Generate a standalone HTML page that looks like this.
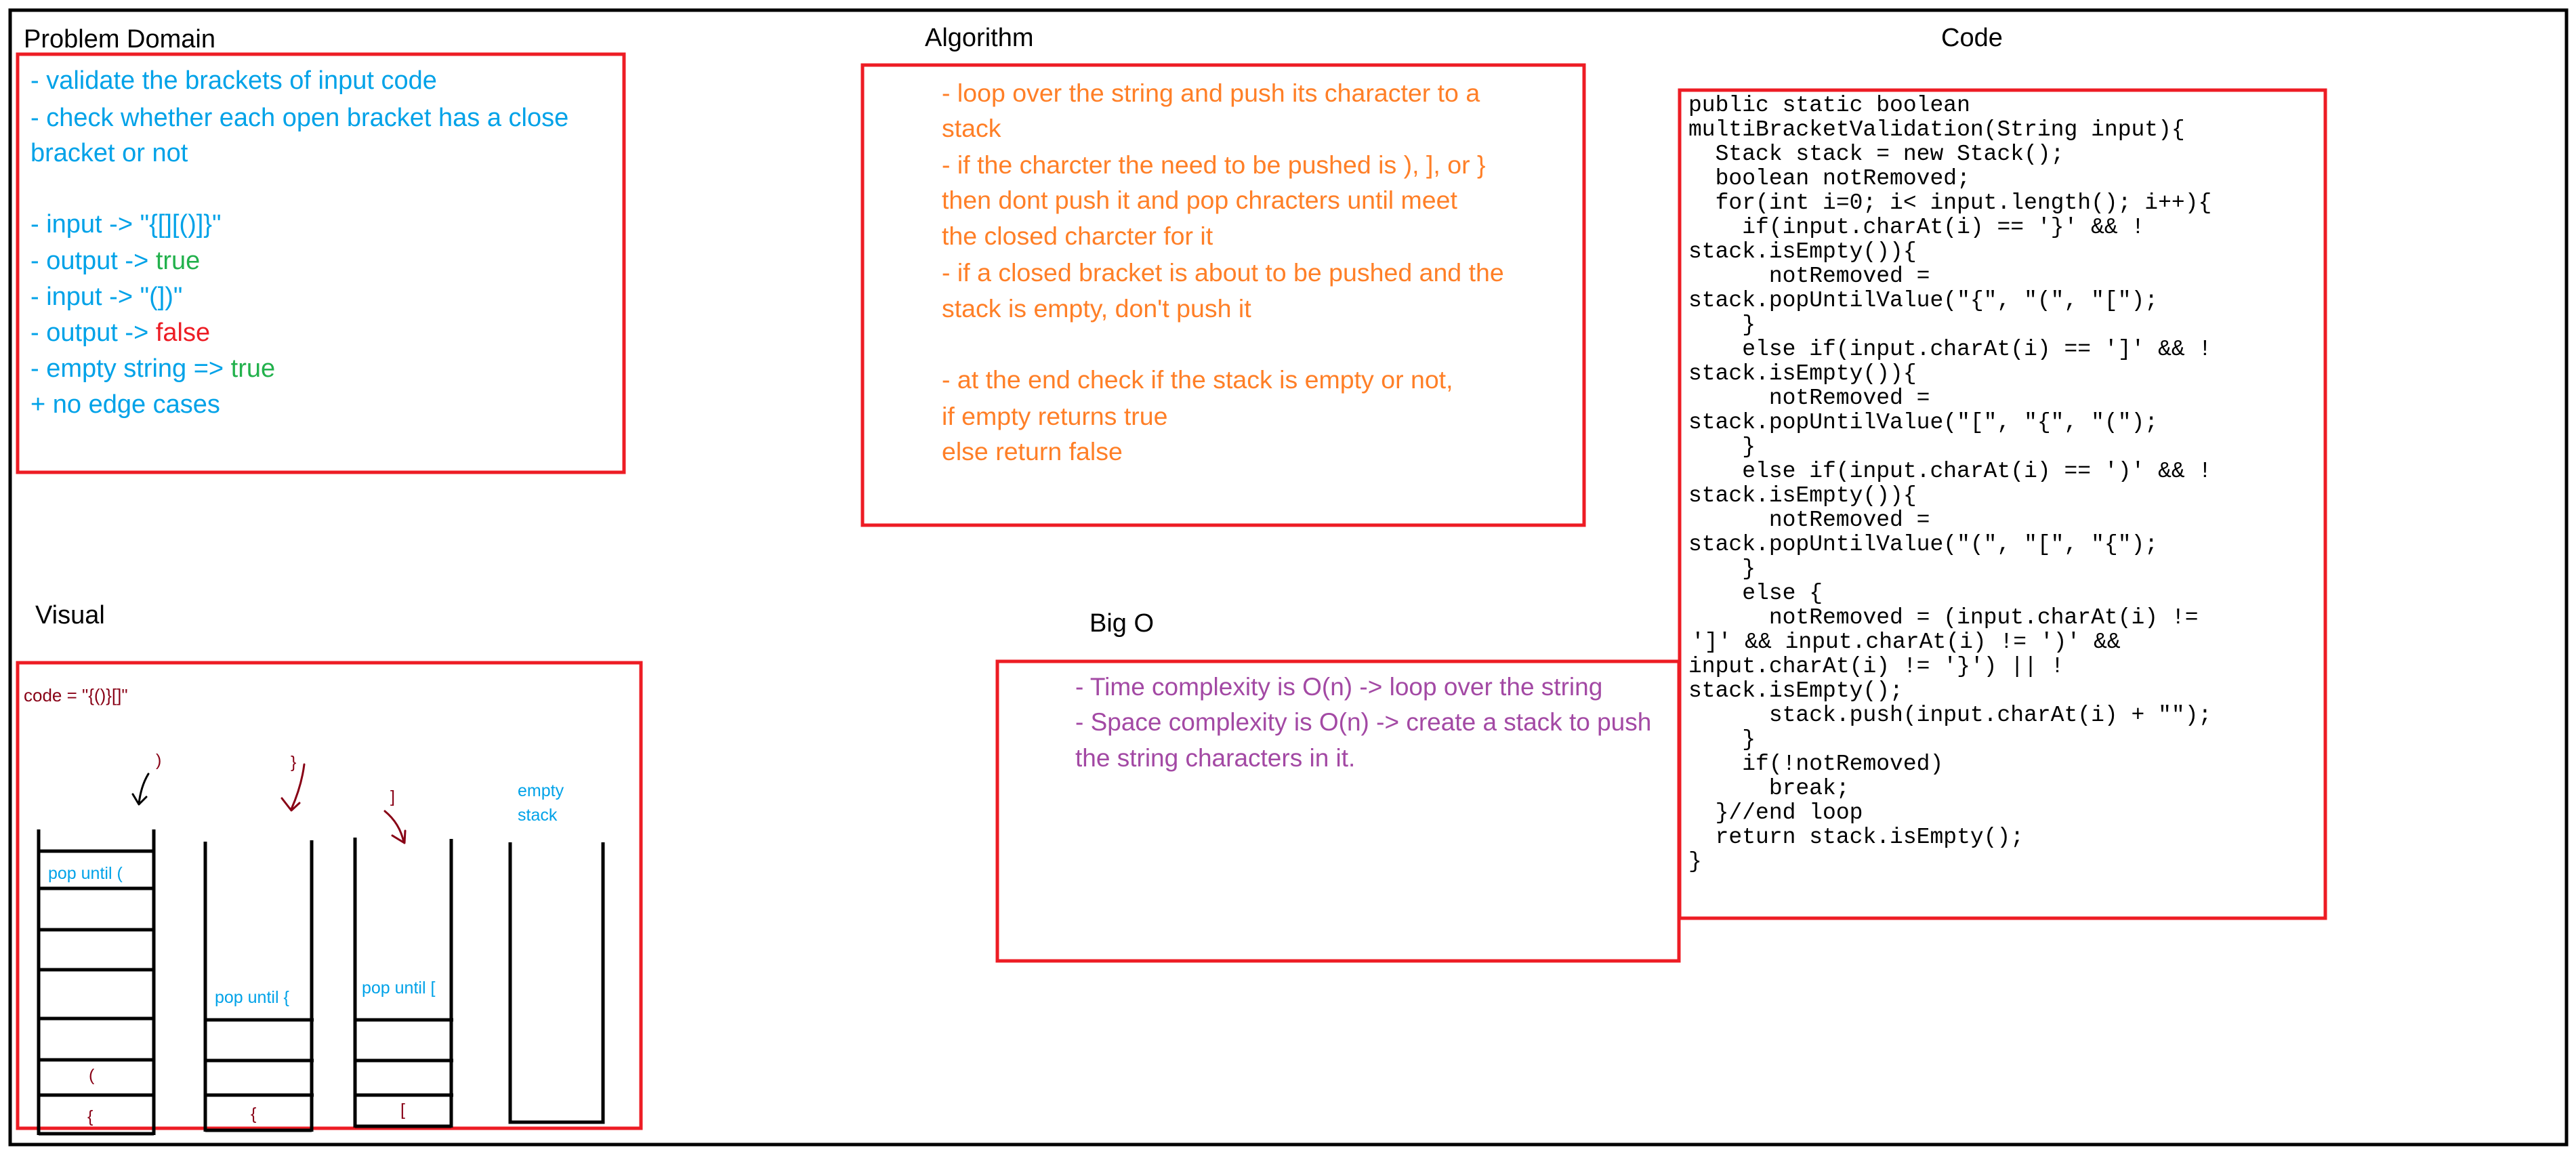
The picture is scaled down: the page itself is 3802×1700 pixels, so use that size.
<!DOCTYPE html>
<html><head><meta charset="utf-8"><style>
html,body{margin:0;padding:0;background:#fff}
svg{display:block}
text{font-family:"Liberation Sans",sans-serif}
.t{font-size:38px;fill:#000}
.code text{font-family:"Liberation Mono",monospace;font-size:33px;fill:#000;white-space:pre}
</style></head><body>
<svg width="3802" height="1700" viewBox="0 0 3802 1700" xmlns="http://www.w3.org/2000/svg">
<rect x="15" y="15" width="3773" height="1674" fill="none" stroke="#000" stroke-width="5"/>

<!-- Titles -->
<text class="t" x="35" y="70">Problem Domain</text>
<text class="t" x="1365" y="68">Algorithm</text>
<text class="t" x="2865" y="68">Code</text>
<text class="t" x="52" y="920">Visual</text>
<text class="t" x="1608" y="932">Big O</text>

<!-- Problem Domain -->
<rect x="26" y="80" width="895" height="617" fill="none" stroke="#ed1c24" stroke-width="5"/>
<g fill="#00a2e8" font-size="38">
<text x="45" y="131">- validate the brackets of input code</text>
<text x="45" y="186">- check whether each open bracket has a close</text>
<text x="45" y="238">bracket or not</text>
<text x="45" y="343">- input -&gt; "{[][()]}"</text>
<text x="45" y="397">- output -&gt; <tspan fill="#22b14c">true</tspan></text>
<text x="45" y="450">- input -&gt; "(])"</text>
<text x="45" y="503">- output -&gt; <tspan fill="#ed1c24">false</tspan></text>
<text x="45" y="556">- empty string =&gt; <tspan fill="#22b14c">true</tspan></text>
<text x="45" y="609">+ no edge cases</text>
</g>

<!-- Algorithm -->
<rect x="1273" y="96" width="1065" height="679" fill="none" stroke="#ed1c24" stroke-width="5"/>
<g fill="#ff7f27" font-size="37.5">
<text x="1390" y="150">- loop over the string and push its character to a</text>
<text x="1390" y="202">stack</text>
<text x="1390" y="256">- if the charcter the need to be pushed is ), ], or }</text>
<text x="1390" y="308">then dont push it and pop chracters until meet</text>
<text x="1390" y="361">the closed charcter for it</text>
<text x="1390" y="415">- if a closed bracket is about to be pushed and the</text>
<text x="1390" y="468">stack is empty, don't push it</text>
<text x="1390" y="573">- at the end check if the stack is empty or not,</text>
<text x="1390" y="627">if empty returns true</text>
<text x="1390" y="679">else return false</text>
</g>

<!-- Big O -->
<rect x="1472" y="976" width="1006" height="442" fill="none" stroke="#ed1c24" stroke-width="5"/>
<g fill="#a349a4" font-size="37">
<text x="1587" y="1026">- Time complexity is O(n) -&gt; loop over the string</text>
<text x="1587" y="1078">- Space complexity is O(n) -&gt; create a stack to push</text>
<text x="1587" y="1131">the string characters in it.</text>
</g>

<!-- Code -->
<rect x="2479" y="133" width="953" height="1222" fill="none" stroke="#ed1c24" stroke-width="5"/>
<g class="code">
<text x="2492" y="164">public static boolean</text>
<text x="2492" y="200">multiBracketValidation(String input){</text>
<text x="2492" y="236">  Stack stack = new Stack();</text>
<text x="2492" y="272">  boolean notRemoved;</text>
<text x="2492" y="308">  for(int i=0; i&lt; input.length(); i++){</text>
<text x="2492" y="344">    if(input.charAt(i) == '}' &amp;&amp; !</text>
<text x="2492" y="380">stack.isEmpty()){</text>
<text x="2492" y="416">      notRemoved =</text>
<text x="2492" y="452">stack.popUntilValue("{", "(", "[");</text>
<text x="2492" y="488">    }</text>
<text x="2492" y="524">    else if(input.charAt(i) == ']' &amp;&amp; !</text>
<text x="2492" y="560">stack.isEmpty()){</text>
<text x="2492" y="596">      notRemoved =</text>
<text x="2492" y="632">stack.popUntilValue("[", "{", "(");</text>
<text x="2492" y="668">    }</text>
<text x="2492" y="704">    else if(input.charAt(i) == ')' &amp;&amp; !</text>
<text x="2492" y="740">stack.isEmpty()){</text>
<text x="2492" y="776">      notRemoved =</text>
<text x="2492" y="812">stack.popUntilValue("(", "[", "{");</text>
<text x="2492" y="848">    }</text>
<text x="2492" y="884">    else {</text>
<text x="2492" y="920">      notRemoved = (input.charAt(i) !=</text>
<text x="2496" y="956">']' &amp;&amp; input.charAt(i) != ')' &amp;&amp;</text>
<text x="2492" y="992">input.charAt(i) != '}') || !</text>
<text x="2492" y="1028">stack.isEmpty();</text>
<text x="2492" y="1064">      stack.push(input.charAt(i) + "");</text>
<text x="2492" y="1100">    }</text>
<text x="2492" y="1136">    if(!notRemoved)</text>
<text x="2492" y="1172">      break;</text>
<text x="2492" y="1208">  }//end loop</text>
<text x="2492" y="1244">  return stack.isEmpty();</text>
<text x="2492" y="1280">}</text>
</g>

<!-- Visual -->
<rect x="26" y="978" width="920" height="687" fill="none" stroke="#ed1c24" stroke-width="5"/>
<text x="35" y="1035" font-size="26" fill="#880015">code = "{()}[]"</text>

<g stroke="#000" stroke-width="5" fill="none">
<line x1="57" y1="1224" x2="57" y2="1675"/>
<line x1="227" y1="1224" x2="227" y2="1675"/>
<line x1="57" y1="1256" x2="227" y2="1256"/>
<line x1="57" y1="1311" x2="227" y2="1311"/>
<line x1="57" y1="1372" x2="227" y2="1372"/>
<line x1="57" y1="1431" x2="227" y2="1431"/>
<line x1="57" y1="1503" x2="227" y2="1503"/>
<line x1="57" y1="1564" x2="227" y2="1564"/>
<line x1="57" y1="1616" x2="227" y2="1616"/>
<line x1="57" y1="1673" x2="227" y2="1673"/>
<line x1="303" y1="1242" x2="303" y2="1670"/>
<line x1="460" y1="1240" x2="460" y2="1670"/>
<line x1="301" y1="1505" x2="463" y2="1505"/>
<line x1="303" y1="1565" x2="463" y2="1565"/>
<line x1="301" y1="1616" x2="463" y2="1616"/>
<line x1="303" y1="1668" x2="460" y2="1668"/>
<line x1="524" y1="1236" x2="524" y2="1664"/>
<line x1="666" y1="1238" x2="666" y2="1664"/>
<line x1="524" y1="1505" x2="669" y2="1505"/>
<line x1="524" y1="1565" x2="669" y2="1565"/>
<line x1="524" y1="1616" x2="669" y2="1616"/>
<line x1="524" y1="1662" x2="666" y2="1662"/>
<polyline points="753,1243 753,1656 890,1656 890,1243"/>
</g>

<g font-size="25" fill="#00a2e8">
<text x="71" y="1297">pop until (</text>
<text x="317" y="1480">pop until {</text>
<text x="534" y="1466">pop until [</text>
<text x="764" y="1175">empty</text>
<text x="764" y="1211">stack</text>
</g>
<g font-size="25" fill="#880015">
<text x="131" y="1595">(</text>
<text x="129" y="1656">{</text>
<text x="370" y="1652">{</text>
<text x="591" y="1646">[</text>
<text x="230" y="1130">)</text>
<text x="429" y="1133">}</text>
<text x="576" y="1184">]</text>
</g>

<g fill="none" stroke-linecap="round" stroke-linejoin="round" stroke-width="3">
<path d="M219,1142 Q208,1160 205,1186" stroke="#000"/>
<path d="M196,1172 L205,1187 L216,1176" stroke="#000"/>
<path d="M449,1128 Q445,1160 430,1194" stroke="#880015"/>
<path d="M416,1178 L430,1196 L442,1185" stroke="#880015"/>
<path d="M568,1197 Q590,1215 596,1243" stroke="#880015"/>
<path d="M579,1233 L597,1244 L598,1226" stroke="#880015"/>
</g>
</svg>
</body></html>
